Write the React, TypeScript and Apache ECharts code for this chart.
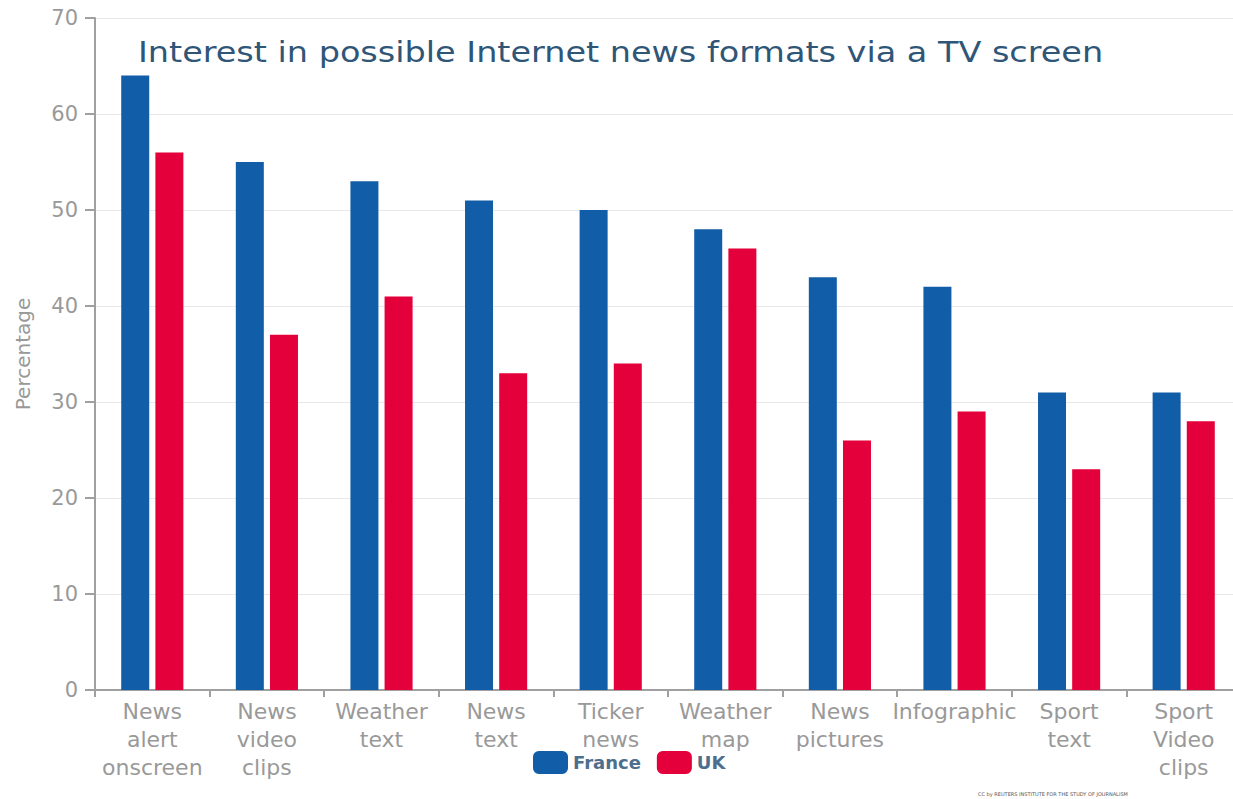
import React, { useEffect, useRef } from "react";
import * as echarts from "echarts";

const categories = [
  "News\nalert\nonscreen",
  "News\nvideo\nclips",
  "Weather\ntext",
  "News\ntext",
  "Ticker\nnews",
  "Weather\nmap",
  "News\npictures",
  "Infographic",
  "Sport\ntext",
  "Sport\nVideo\nclips",
];
const france = [64, 55, 53, 51, 50, 48, 43, 42, 31, 31];
const uk = [56, 37, 41, 33, 34, 46, 26, 29, 23, 28];
const titleText = "Interest in possible Internet news formats via a TV screen";
const yAxisName = "Percentage";
const creditText = "CC by REUTERS INSTITUTE FOR THE STUDY OF JOURNALISM";

const FONT = "DejaVu Sans";

export default function App() {
  const ref = useRef<HTMLDivElement>(null);
  useEffect(() => {
    const chart = echarts.init(ref.current!, null, { renderer: "svg" });
    chart.setOption({
      animation: false,
      backgroundColor: "#ffffff",
      textStyle: { fontFamily: FONT },
      legend: {
        data: ["France", "UK"],
        left: 528,
        top: 746,
        itemWidth: 35,
        itemHeight: 23,
        itemGap: 16,
        icon: "roundRect",
        textStyle: {
          fontFamily: FONT,
          fontSize: 18,
          fontWeight: "bold",
          color: "#4e6e8e",
        },
      },
      grid: {
        left: 95,
        right: -8,
        top: 18,
        bottom: 109,
        containLabel: false,
        outerBoundsMode: "none",
      },
      xAxis: {
        type: "category",
        data: categories,
        axisLine: { lineStyle: { color: "#a0a0a0", width: 2 } },
        axisTick: { show: true, length: 7, lineStyle: { color: "#a0a0a0", width: 2 } },
        axisLabel: {
          interval: 0,
          color: "#999999",
          fontSize: 22,
          lineHeight: 28,
          margin: 7,
          fontFamily: FONT,
        },
      },
      yAxis: {
        type: "value",
        min: 0,
        max: 70,
        interval: 10,
        name: yAxisName,
        nameLocation: "middle",
        nameGap: 62,
        nameTextStyle: { color: "#999999", fontSize: 20, fontFamily: FONT },
        axisLine: { show: true, lineStyle: { color: "#a0a0a0", width: 2 } },
        axisTick: { show: true, length: 10, lineStyle: { color: "#a0a0a0", width: 2 } },
        axisLabel: { color: "#999999", fontSize: 21, margin: 17, fontFamily: FONT },
        splitLine: { lineStyle: { color: "#e8e8e8", width: 1 } },
      },
      series: [
        {
          name: "France",
          type: "bar",
          data: france,
          barWidth: 28,
          barGap: "22%",
          itemStyle: { color: "#115da8" },
        },
        {
          name: "UK",
          type: "bar",
          data: uk,
          barWidth: 28,
          itemStyle: { color: "#e4003a" },
        },
      ],
      graphic: [
        {
          type: "text",
          x: 138,
          y: 38,
          scaleX: 1.195,
          style: {
            text: titleText,
            fontSize: 28,
            fill: "#2f5677",
            fontFamily: FONT,
          },
        },
        {
          type: "text",
          x: 978,
          y: 791,
          style: { text: creditText, fontSize: 5, fill: "#555555", fontFamily: FONT },
        },
      ],
    });
    return () => chart.dispose();
  }, []);
  return (
    <div
      ref={ref}
      style={{ position: "fixed", left: 0, top: 0, width: 1233, height: 799 }}
    />
  );
}
